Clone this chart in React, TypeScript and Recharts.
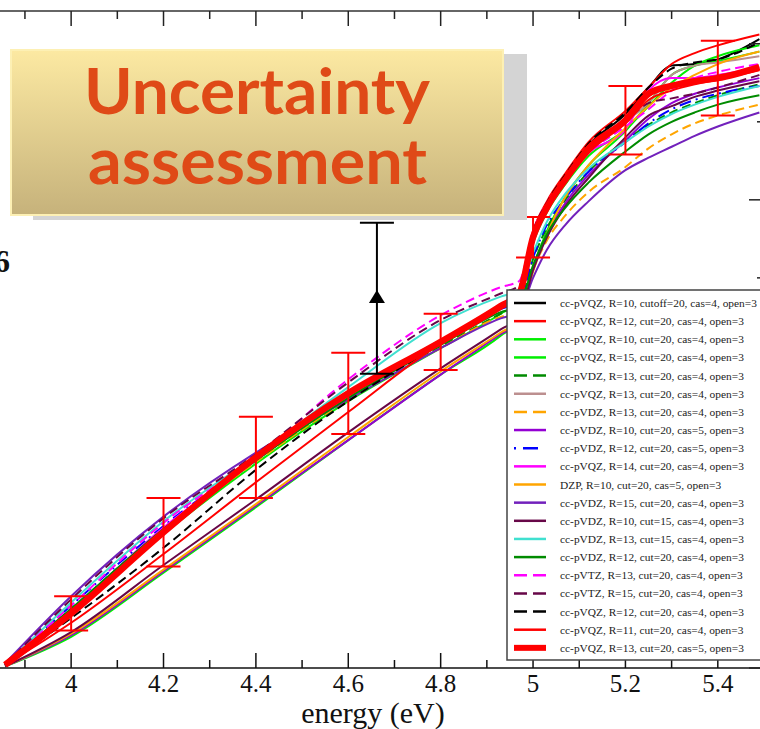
import { ComposedChart, Line, XAxis, YAxis, ErrorBar } from 'recharts'

// photon energies (eV) at which every curve is sampled
const energies = [3.857, 4.0, 4.2, 4.4, 4.6, 4.8, 4.93, 4.97, 5.0, 5.03, 5.07, 5.12, 5.2, 5.25, 5.3, 5.35, 5.4, 5.49]

const vqzR10Cutoff20 = [0.02, 0.34, 0.86, 1.33, 1.74, 2.08, 2.31, 2.40, 2.78, 2.97, 3.15, 3.35, 3.55, 3.72, 3.86, 3.87, 3.90, 4.03]
const vqzR12 = [0.02, 0.35, 0.86, 1.34, 1.75, 2.09, 2.32, 2.42, 2.80, 2.99, 3.17, 3.37, 3.57, 3.72, 3.87, 3.94, 3.99, 4.06]
const vqzR10 = [0.01, 0.20, 0.61, 1.03, 1.46, 1.88, 2.13, 2.23, 2.56, 2.80, 3.02, 3.22, 3.44, 3.62, 3.80, 3.86, 3.89, 3.95]
const vqzR15 = [0.02, 0.36, 0.86, 1.31, 1.71, 2.05, 2.27, 2.35, 2.72, 2.92, 3.10, 3.28, 3.45, 3.60, 3.75, 3.86, 3.92, 3.99]
const vdzR13Dashed = [0.02, 0.38, 0.89, 1.33, 1.72, 2.06, 2.27, 2.33, 2.62, 2.82, 3.00, 3.18, 3.38, 3.48, 3.56, 3.62, 3.67, 3.74]
const vqzR13 = [0.02, 0.36, 0.87, 1.33, 1.74, 2.08, 2.31, 2.39, 2.76, 2.95, 3.12, 3.30, 3.50, 3.62, 3.80, 3.86, 3.88, 3.92]
const vdzR13Orange = [0.02, 0.37, 0.88, 1.32, 1.72, 2.05, 2.25, 2.28, 2.55, 2.74, 2.90, 3.05, 3.21, 3.33, 3.42, 3.49, 3.54, 3.61]
const vdzR10Cas5 = [0.01, 0.21, 0.62, 1.04, 1.46, 1.88, 2.14, 2.22, 2.55, 2.78, 2.98, 3.16, 3.38, 3.52, 3.62, 3.68, 3.72, 3.78]
const vdzR12Cas5 = [0.02, 0.40, 0.91, 1.34, 1.76, 2.10, 2.30, 2.35, 2.63, 2.84, 3.01, 3.18, 3.37, 3.49, 3.58, 3.64, 3.68, 3.73]
const vqzR14 = [0.02, 0.37, 0.90, 1.34, 1.77, 2.10, 2.33, 2.41, 2.77, 2.96, 3.12, 3.30, 3.45, 3.70, 3.78, 3.78, 3.80, 3.85]
const dzpR10 = [0.01, 0.22, 0.63, 1.05, 1.48, 1.90, 2.15, 2.23, 2.54, 2.78, 3.02, 3.22, 3.46, 3.60, 3.72, 3.80, 3.87, 3.95]
const vdzR15 = [0.03, 0.46, 0.97, 1.38, 1.72, 2.05, 2.24, 2.28, 2.50, 2.68, 2.84, 2.99, 3.19, 3.27, 3.34, 3.41, 3.47, 3.56]
const vdzR10Cut15 = [0.01, 0.23, 0.66, 1.08, 1.51, 1.92, 2.17, 2.25, 2.55, 2.76, 2.96, 3.14, 3.40, 3.54, 3.60, 3.66, 3.70, 3.76]
const vdzR13Cut15 = [0.02, 0.42, 0.94, 1.36, 1.80, 2.21, 2.38, 2.42, 2.66, 2.86, 3.04, 3.20, 3.37, 3.47, 3.55, 3.61, 3.66, 3.73]
const vdzR12 = [0.02, 0.38, 0.89, 1.33, 1.73, 2.07, 2.28, 2.32, 2.58, 2.78, 2.95, 3.11, 3.31, 3.42, 3.50, 3.56, 3.61, 3.67]
const vtzR13 = [0.02, 0.40, 0.93, 1.35, 1.85, 2.26, 2.44, 2.48, 2.80, 2.98, 3.14, 3.30, 3.47, 3.58, 3.70, 3.78, 3.82, 3.87]
const vtzR15 = [0.02, 0.44, 0.96, 1.37, 1.83, 2.23, 2.40, 2.45, 2.78, 2.97, 3.13, 3.32, 3.50, 3.62, 3.65, 3.68, 3.72, 3.80]
const vqzR12Dashed = [0.02, 0.32, 0.77, 1.27, 1.71, 2.08, 2.31, 2.40, 2.79, 2.98, 3.16, 3.36, 3.56, 3.72, 3.84, 3.88, 3.90, 4.01]
const vqzR11 = [0.02, 0.29, 0.73, 1.19, 1.64, 2.08, 2.30, 2.38, 2.75, 2.93, 3.11, 3.30, 3.49, 3.64, 3.70, 3.74, 3.77, 3.83]
const vqzR13Cas5 = [0.02, 0.35, 0.87, 1.35, 1.76, 2.09, 2.32, 2.40, 2.76, 2.95, 3.13, 3.33, 3.51, 3.68, 3.73, 3.76, 3.78, 3.85]

// error bars around the cas=5 reference curve
const barEnergies = [4.0, 4.2, 4.4, 4.6, 4.8, 5.0, 5.2, 5.4]
const barCentres = [0.35, 0.87, 1.35, 1.76, 2.09, 2.76, 3.51, 3.78]
const barHalfWidths = [0.11, 0.22, 0.26, 0.26, 0.18, 0.13, 0.22, 0.24]

// vertical shift marker
const shiftEnergy = 4.662
const shiftCentre = 2.378
const shiftRange: [number, number] = [0.493, 0.475]

const xTicks = [3.9, 4, 4.1, 4.2, 4.3, 4.4, 4.5, 4.6, 4.7, 4.8, 4.9, 5, 5.1, 5.2, 5.3, 5.4]
const yTicks = [0, 0.5, 1, 1.5, 2, 2.5, 3, 3.5, 4]

const DASH = '9 5'

const SERIES = [
  { key: 's1', label: 'cc-pVQZ, R=10, cutoff=20, cas=4, open=3', color: '#000000', values: vqzR10Cutoff20 },
  { key: 's2', label: 'cc-pVQZ, R=12, cut=20, cas=4, open=3', color: '#ff0000', values: vqzR12 },
  { key: 's3', label: 'cc-pVQZ, R=10, cut=20, cas=4, open=3', color: '#00ee00', values: vqzR10 },
  { key: 's4', label: 'cc-pVQZ, R=15, cut=20, cas=4, open=3', color: '#00ee00', values: vqzR15 },
  { key: 's5', label: 'cc-pVDZ, R=13, cut=20, cas=4, open=3', color: '#008b00', values: vdzR13Dashed, dash: 'dash' },
  { key: 's6', label: 'cc-pVQZ, R=13, cut=20, cas=4, open=3', color: '#bc8f8f', values: vqzR13 },
  { key: 's7', label: 'cc-pVDZ, R=13, cut=20, cas=4, open=3', color: '#ffa500', values: vdzR13Orange, dash: 'dash' },
  { key: 's8', label: 'cc-pVDZ, R=10, cut=20, cas=5, open=3', color: '#9400d3', values: vdzR10Cas5 },
  { key: 's9', label: 'cc-pVDZ, R=12, cut=20, cas=5, open=3', color: '#0000ff', values: vdzR12Cas5, dash: 'dot' },
  { key: 's10', label: 'cc-pVQZ, R=14, cut=20, cas=4, open=3', color: '#ff00ff', values: vqzR14 },
  { key: 's11', label: 'DZP, R=10, cut=20, cas=5, open=3', color: '#ffa500', values: dzpR10 },
  { key: 's12', label: 'cc-pVDZ, R=15, cut=20, cas=4, open=3', color: '#7221bc', values: vdzR15 },
  { key: 's13', label: 'cc-pVDZ, R=10, cut=15, cas=4, open=3', color: '#670748', values: vdzR10Cut15 },
  { key: 's14', label: 'cc-pVDZ, R=13, cut=15, cas=4, open=3', color: '#40e0d0', values: vdzR13Cut15 },
  { key: 's15', label: 'cc-pVDZ, R=12, cut=20, cas=4, open=3', color: '#008b00', values: vdzR12 },
  { key: 's16', label: 'cc-pVTZ, R=13, cut=20, cas=4, open=3', color: '#ff00ff', values: vtzR13, dash: 'dash' },
  { key: 's17', label: 'cc-pVTZ, R=15, cut=20, cas=4, open=3', color: '#670748', values: vtzR15, dash: 'dash' },
  { key: 's18', label: 'cc-pVQZ, R=12, cut=20, cas=4, open=3', color: '#000000', values: vqzR12Dashed, dash: 'dash' },
  { key: 's19', label: 'cc-pVQZ, R=11, cut=20, cas=4, open=3', color: '#ff0000', values: vqzR11 },
  { key: 's20', label: 'cc-pVQZ, R=13, cut=20, cas=5, open=3', color: '#ff0000', values: vqzR13Cas5, thick: true },
]

const rows = energies.map((x, i) => {
  const row: Record<string, number> = { x }
  SERIES.forEach((s) => { row[s.key] = s.values[i] })
  return row
})

const barRows = barEnergies.map((x, i) => ({ x, v: barCentres[i], err: barHalfWidths[i] }))
const shiftRows = [{ x: shiftEnergy, v: shiftCentre, err: shiftRange }]

const SERIF = "'Liberation Serif', 'Times New Roman', serif"

function plotDash(dash?: string) {
  if (dash === 'dash') return DASH
  if (dash === 'dot') return '2 5 12 5'
  return undefined
}

function legendDash(dash?: string) {
  if (dash === 'dash') return '13 6'
  if (dash === 'dot') return '2 7 15 8'
  return undefined
}

const isMajor = (v: number) => Math.round(v * 10) % 2 === 0

function BottomTick({ x, y, payload }: any) {
  const major = isMajor(payload.value)
  return (
    <g>
      <line x1={x} x2={x} y1={y} y2={y - (major ? 15 : 8)} stroke="#111" strokeWidth={1.5} />
      {major && (
        <text x={x} y={y + 24} textAnchor="middle" fontFamily={SERIF} fontSize={25} fill="#111">
          {String(Number(payload.value.toFixed(1)))}
        </text>
      )}
    </g>
  )
}

function TopTick({ x, y, payload }: any) {
  const major = isMajor(payload.value)
  return <line x1={x} x2={x} y1={y} y2={y + (major ? 15 : 8)} stroke="#222" strokeWidth={1.5} />
}

function RightTick({ x, y, payload }: any) {
  const major = Number.isInteger(payload.value)
  return <line x1={x} x2={x - (major ? 15 : 7)} y1={y} y2={y} stroke="#222" strokeWidth={1.5} />
}

function ShiftMarker({ cx, cy }: any) {
  if (cx == null || cy == null) return <g />
  return <path d={`M${cx},${cy - 7} L${cx + 8},${cy + 6} L${cx - 8},${cy + 6} Z`} fill="#000" />
}

function LegendBox() {
  return (
    <svg width={254} height={372} style={{ position: 'absolute', left: 506, top: 289 }}>
      <rect x={1} y={1} width={300} height={370} fill="#fff" stroke="#444" strokeWidth={1.5} />
      {SERIES.map((s, i) => {
        const cy = 14 + i * 18.15
        return (
          <g key={s.key}>
            <line x1={8} x2={40} y1={cy} y2={cy} stroke={s.color}
              strokeWidth={s.thick ? 6 : 2.5} strokeDasharray={legendDash(s.dash)} />
            <text x={54} y={cy + 4} fontFamily={SERIF} fontSize={11.4} fill="#222">{s.label}</text>
          </g>
        )
      })}
    </svg>
  )
}

function TitleCard() {
  return (
    <svg width={760} height={729} style={{ position: 'absolute', left: 0, top: 0, pointerEvents: 'none' }}>
      <defs>
        <linearGradient id="cardFill" x1="0" y1="0" x2="0" y2="1">
          <stop offset="0%" stopColor="#fce9a2" />
          <stop offset="100%" stopColor="#c6b27b" />
        </linearGradient>
      </defs>
      <rect x={33} y={54} width={494} height={166} fill="#d4d4d4" />
      <rect x={11} y={50} width={492} height={165} fill="url(#cardFill)" stroke="#fdf0b4" strokeWidth={2} />
      <text x={257} y={114} textAnchor="middle" fontFamily="Lato, 'Open Sans', sans-serif" fontWeight={700}
        fontSize={64} fill="#df4a17" textLength={346} lengthAdjust="spacingAndGlyphs">Uncertainty</text>
      <text x={257.5} y={184} textAnchor="middle" fontFamily="Lato, 'Open Sans', sans-serif" fontWeight={700}
        fontSize={64} fill="#df4a17" textLength={339} lengthAdjust="spacingAndGlyphs">assessment</text>
      <text x={10} y={272} textAnchor="end" fontFamily={SERIF} fontWeight={700} fontSize={32} fill="#111">6</text>
    </svg>
  )
}

export default function App() {
  return (
    <div style={{ position: 'absolute', left: 0, top: 0, width: 760, height: 729, overflow: 'hidden', background: '#fff' }}>
      <ComposedChart width={804} height={729} data={rows} margin={{ top: 0, right: 0, bottom: 0, left: 0 }}>
        <XAxis xAxisId="top" orientation="top" type="number" dataKey="x" domain={[3.846, 5.5]} allowDataOverflow
          ticks={xTicks} interval={0} height={11} tickSize={0} tickMargin={0} tick={<TopTick />}
          axisLine={{ stroke: '#333', strokeWidth: 1.5 }} tickLine={false} />
        <XAxis type="number" dataKey="x" domain={[3.846, 5.5]} allowDataOverflow ticks={xTicks} interval={0}
          height={61} tickSize={0} tickMargin={0} tick={<BottomTick />} tickLine={false}
          axisLine={{ stroke: '#111', strokeWidth: 1.5 }}
          label={{ value: 'energy (eV)', position: 'insideBottom', offset: 6, dx: -9, fontFamily: SERIF, fontSize: 30, fill: '#111' }} />
        <YAxis orientation="right" type="number" domain={[0, 4.21]} allowDataOverflow ticks={yTicks} interval={0}
          width={40} tickSize={0} tickMargin={0} tick={<RightTick />} tickLine={false}
          axisLine={{ stroke: '#222', strokeWidth: 1.5 }} />
        {SERIES.map((s) => (
          <Line key={s.key} type="monotone" dataKey={s.key} stroke={s.color}
            strokeWidth={s.thick ? 6.5 : 2} strokeDasharray={plotDash(s.dash)}
            dot={false} activeDot={false} isAnimationActive={false} />
        ))}
        <Line data={barRows} dataKey="v" stroke="none" dot={false} activeDot={false} isAnimationActive={false} legendType="none">
          <ErrorBar dataKey="err" direction="y" width={17} stroke="#ff0000" strokeWidth={2} />
        </Line>
        <Line data={shiftRows} dataKey="v" stroke="none" dot={<ShiftMarker />} activeDot={false} isAnimationActive={false} legendType="none">
          <ErrorBar dataKey="err" direction="y" width={17} stroke="#000" strokeWidth={2} />
        </Line>
      </ComposedChart>
      <LegendBox />
      <TitleCard />
    </div>
  )
}
